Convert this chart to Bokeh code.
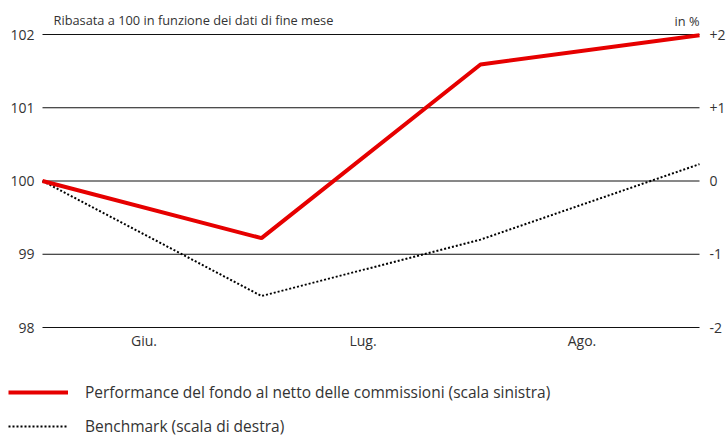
from bokeh.plotting import figure
from bokeh.models import Range1d, Label, Legend, LegendItem
from bokeh.core.properties import value
from bokeh.embed import file_html
from bokeh.resources import INLINE

# ---- data ----
x_pos = [0, 1, 2, 3]
fund = [100.0, 99.22, 101.59, 101.99]          # left scale
bench = [0.0, -1.57, -0.80, 0.23]              # right scale (in %)
month_ticks = [0.5, 1.5, 2.5]
month_labels = ["Giu.", "Lug.", "Ago."]
left_ticks = [98, 99, 100, 101, 102]
left_labels = ["98", "99", "100", "101", "102"]
right_ticks = [-2, -1, 0, 1, 2]
right_labels = ["-2", "-1", "0", "+1", "+2"]
title_text = "Ribasata a 100 in funzione dei dati di fine mese"
unit_text = "in %"
fund_label = "Performance del fondo al netto delle commissioni (scala sinistra)"
bench_label = "Benchmark (scala di destra)"

FONT = "Open Sans"
TXT = "#333333"
RED = "#e60000"
W, H = 728, 437
KX = 219.0     # px per x unit
KY = 73.25     # px per y unit
FL, FR, FT, FB = 42, 699, 34, 327   # plot box in px

x0 = -FL / KX
x1 = 3 + (W - FR) / KX
y_top = 102 + FT / KY
y_bot = 98 - (H - FB) / KY

p = figure(width=W, height=H, output_backend="svg", toolbar_location=None,
           x_range=Range1d(x0, x1), y_range=Range1d(y_bot, y_top),
           min_border=0, x_axis_location=None, y_axis_location=None)
p.outline_line_color = None
p.background_fill_color = "white"
p.border_fill_color = "white"
p.grid.visible = False
p.extra_y_ranges = {"pct": Range1d(y_bot - 100, y_top - 100)}

# horizontal grid lines across the plot box
p.segment(x0=[x_pos[0]] * len(left_ticks), y0=left_ticks,
          x1=[x_pos[-1]] * len(left_ticks), y1=left_ticks,
          line_color="#111111", line_width=1)

# tick labels
p.text(x=[x_pos[0]] * len(left_ticks), y=left_ticks, text=left_labels,
       x_offset=-8, text_align="right", text_baseline="middle",
       text_font=value(FONT), text_font_size="14px", text_color=TXT)
p.text(x=[x_pos[-1]] * len(right_ticks), y=right_ticks, text=right_labels,
       y_range_name="pct", x_offset=10, text_align="left", text_baseline="middle",
       text_font=value(FONT), text_font_size="14px", text_color=TXT)
p.text(x=month_ticks, y=[left_ticks[0]] * len(month_ticks), text=month_labels,
       x_offset=-8, y_offset=13, text_align="center", text_baseline="middle",
       text_font=value(FONT), text_font_size="14px", text_color=TXT)

r_bench = p.line(x_pos, bench, y_range_name="pct", line_color="black",
                 line_width=2, line_dash="2 2")
r_fund = p.line(x_pos, fund, line_color=RED, line_width=4)

p.add_layout(Label(x=x_pos[0], y=left_ticks[-1], x_offset=11, y_offset=15,
                   text=title_text, text_font=FONT,
                   text_font_size="12.8px", text_color=TXT, text_baseline="middle"))
p.add_layout(Label(x=x_pos[-1], y=left_ticks[-1], y_offset=14, text=unit_text,
                   text_font=FONT, text_font_size="12.8px", text_color=TXT,
                   text_baseline="middle", text_align="right"))

legend = Legend(items=[LegendItem(label=fund_label, renderers=[r_fund]),
                       LegendItem(label=bench_label, renderers=[r_bench])],
                location=(8, 0), orientation="vertical",
                glyph_width=60, glyph_height=18, label_height=18,
                label_standoff=17, spacing=12, padding=0, margin=0,
                border_line_color=None, background_fill_alpha=0,
                label_text_font=FONT, label_text_font_size="15.5px",
                label_text_color=TXT)
p.add_layout(legend, "center")

open("out.html", "w").write(file_html(p, INLINE))
